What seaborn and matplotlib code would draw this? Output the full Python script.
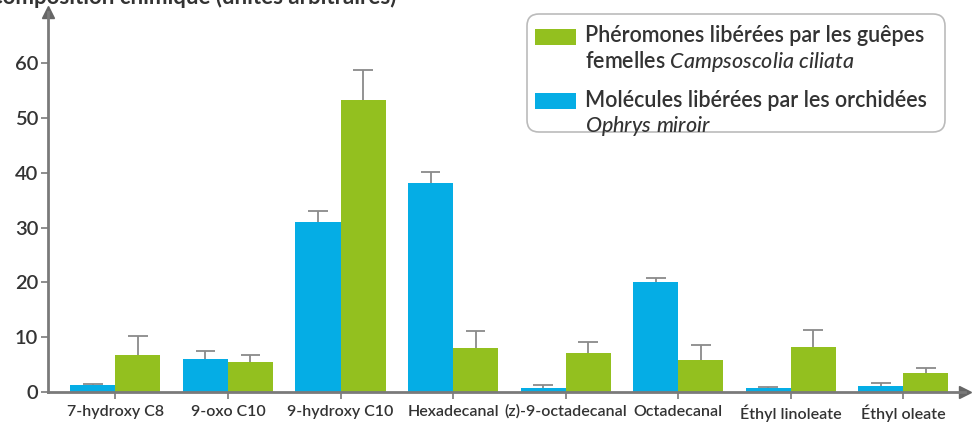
import matplotlib
matplotlib.use("Agg")
import matplotlib.pyplot as plt
import seaborn as sns
import pandas as pd
import numpy as np
from matplotlib.patches import Patch, FancyBboxPatch

categories = ["7-hydroxy C8", "9-oxo C10", "9-hydroxy C10", "Hexadecanal",
              "(z)-9-octadecanal", "Octadecanal", "Éthyl linoleate", "Éthyl oleate"]
orchid_values = [1.2, 6.0, 31.0, 38.2, 0.8, 20.0, 0.7, 1.1]
orchid_err_top = [1.5, 7.4, 33.0, 40.2, 1.3, 20.8, 0.9, 1.7]
wasp_values = [6.7, 5.4, 53.3, 8.0, 7.2, 5.8, 8.2, 3.5]
wasp_err_top = [10.3, 6.7, 58.7, 11.2, 9.2, 8.5, 11.4, 4.4]
series_names = ["orchid", "wasp"]
y_ticks = [0, 10, 20, 30, 40, 50, 60]

BLUE = "#05ade5"
GREEN = "#93c01f"
AXC = "#7a7a7a"
TXT = "#333333"

sns.set_theme(style="white")
plt.rcParams["font.family"] = ["Lato", "DejaVu Sans"]
plt.rcParams["mathtext.fontset"] = "custom"
plt.rcParams["mathtext.it"] = "Lato:italic:medium"
plt.rcParams["mathtext.rm"] = "Lato"

df = pd.DataFrame({
    "cat": categories * 2,
    "val": orchid_values + wasp_values,
    "serie": [series_names[0]] * len(categories) + [series_names[1]] * len(categories),
})

fig = plt.figure(figsize=(9.76, 4.25), dpi=100)
ax = fig.add_axes([0.049, 0.0776, 0.94, 0.894])

sns.barplot(data=df, x="cat", y="val", hue="serie", hue_order=series_names,
            palette=[BLUE, GREEN], width=0.8, gap=0, errorbar=None,
            saturation=1, ax=ax, legend=False, linewidth=0)

# error bars (upper only) placed on the library-drawn bars
bars = [p for p in ax.patches]
tops = orchid_err_top + wasp_err_top
vals = orchid_values + wasp_values
for p, v, t in zip(bars, vals, tops):
    xc = p.get_x() + p.get_width() / 2
    hw = p.get_width() * 0.22
    ax.vlines(xc, v, t, color="#8a8a8a", linewidth=1.3, zorder=1)
    ax.hlines(t, xc - hw, xc + hw, color="#8a8a8a", linewidth=1.3, zorder=1)

ax.set_xlim(-0.6, 7.55)
ax.set_ylim(0, 69.3)
ax.set_yticks(y_ticks)
ax.set_xlabel("")
ax.set_ylabel("")

for s in ["top", "right"]:
    ax.spines[s].set_visible(False)
for s in ["left", "bottom"]:
    ax.spines[s].set_color(AXC)
    ax.spines[s].set_linewidth(2)

ax.tick_params(axis="y", direction="out", length=5, width=1.2, color=AXC,
               labelsize=14.5, labelcolor=TXT, pad=2, left=True)
ax.tick_params(axis="x", direction="out", length=5, width=1.2, color=AXC,
               labelsize=11.5, labelcolor=TXT, pad=4, bottom=True)
for lab in ax.get_yticklabels():
    lab.set_fontweight("semibold")
for lab in ax.get_xticklabels():
    lab.set_fontweight("semibold")

# arrow heads
ax.plot([0], [1.0], marker="^", color="#666666", markersize=8,
        transform=ax.transAxes, clip_on=False)
ax.plot([1.0], [0], marker=">", color="#666666", markersize=8,
        transform=ax.transAxes, clip_on=False)

# clipped title at top
fig.text(-0.0125, 1.006, "Composition chimique (unités arbitraires)",
         fontsize=16, fontweight="bold", color=TXT, ha="left", va="center")

# legend box
box = FancyBboxPatch((5.27, 2.93), 4.18, 1.18,
                     boxstyle="round,pad=0,rounding_size=0.12",
                     transform=fig.dpi_scale_trans, facecolor="white",
                     edgecolor="#bbbbbb", linewidth=1.2, zorder=4, clip_on=False)
ax.add_artist(box)

handles = [Patch(facecolor=GREEN, edgecolor="none"),
           Patch(facecolor=BLUE, edgecolor="none")]
labels = ["Phéromones libérées par les guêpes\nfemelles $Campsoscolia\\ ciliata$",
          "Molécules libérées par les orchidées\n$Ophrys\\ miroir$"]
leg = ax.legend(handles, labels, loc="upper left",
                bbox_to_anchor=(541 / 976, 1 - 25 / 425),
                bbox_transform=fig.transFigure,
                prop={"family": ["Lato", "DejaVu Sans"], "size": 15.5, "weight": "semibold"},
                frameon=False, handlelength=1.9,
                handleheight=0.8, handletextpad=0.15, borderpad=0,
                labelspacing=0.72, labelcolor=TXT, borderaxespad=0)
leg.set_zorder(6)
for t in leg.get_texts():
    t.set_linespacing(1.18)
for h in leg.legend_handles:
    h.set_y(h.get_y() + 10)
    h.set_x(h.get_x() - 4)

fig.savefig("out.png", dpi=100)
